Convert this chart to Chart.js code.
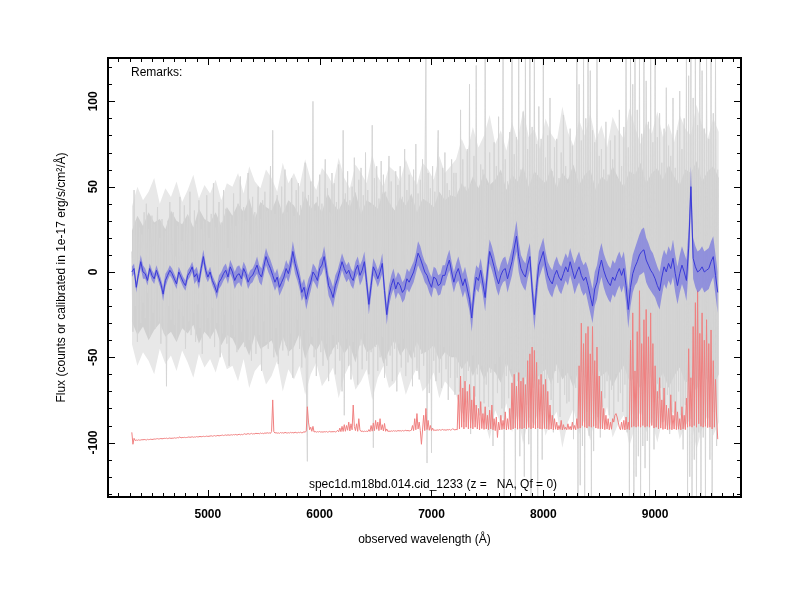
<!DOCTYPE html>
<html>
<head>
<meta charset="utf-8">
<script src="https://cdn.jsdelivr.net/npm/chart.js@4.4.1/dist/chart.umd.min.js"></script>
<style>
  html, body { margin: 0; padding: 0; background: #fff; }
  #wrap { width: 800px; height: 600px; }
</style>
</head>
<body>
<div id="wrap"><canvas id="spec" width="800" height="600"></canvas></div>
<script>
// wavelength grids (Angstrom), linear dispersion
const fineStart = 4320, fineStep = 10;     // raw spectrum and sky
const bandStart = 4320, bandStep = 50;     // density of the raw spectrum
const smoothStart = 4320, smoothStep = 20; // smoothed spectrum

// raw flux (grey), one row per 100 A
const greyFlux = [
  12, -35, 48, -20, 30, -41, 8, 26, -30, 22,
  -18, 35, -27, 40, -12, 25, -38, 15, 33, -24,
  28, -33, 10, 38, -29, 20, -42, 31, -15, -36,
  24, -67, 30, -20, 41, -28, 16, 35, -31, 9,
  -40, 27, -22, 44, -34, 18, -26, 39, -45, 21,
  33, -29, 47, -37, 12, -24, 36, -41, 28, -19,
  42, -33, 25, -48, 30, 16, -35, 45, -27, 20,
  -39, 34, -21, 52, -44, 26, -30, 19, 41, -50,
  29, -36, 48, -25, 37, -42, 14, -55, 33, 23,
  -31, 46, -38, 27, -47, 40, -22, 56, -35, 18,
  38, -44, 30, -28, 58, -40, 22, -52, 44, -26,
  35, -48, 26, 50, -37, 31, -58, 42, -29, 47,
  -41, 36, -45, 28, 62, -39, 83, -50, 34, -33,
  45, -54, 38, -30, 50, -46, 27, 60, -43, 35,
  -49, 41, -36, 55, -62, 33, -40, 48, -28, 52,
  -45, 39, -56, 47, -34, 64, -58, -111, 45, -42,
  53, -38, 100, -50, 36, -61, 44, -33, 57, -47,
  40, -55, 31, 66, -42, 49, -64, 35, -48, 58,
  -37, 52, -60, 41, -45, 63, -52, 38, -70, 83,
  -84, 46, -39, 59, -55, 42, -63, 50, -41, 67,
  -48, 37, -66, 54, -43, 61, -57, 45, -36, 70,
  -52, 48, -60, 39, -47, 86, -103, 55, -44, 62,
  -58, 43, -50, 65, -38, 57, -62, 47, -55, 40,
  68, -49, 53, -64, 36, -45, 59, -70, 51, -42,
  62, -56, 44, -39, 72, -61, 48, -53, 57, -46,
  41, -67, 60, -50, 75, -58, 46, -63, 54, -48,
  66, -55, 43, 125, -112, 58, -71, 49, -106, 62,
  -52, 47, -64, 56, 83, -59, 45, -68, 61, -44,
  70, -57, 52, -75, 48, -62, 66, -49, 58, -72,
  58, -62, 47, -70, 95, -55, 66, -88, 50, -64,
  72, -58, 110, -95, 52, -49, 68, -73, 121, -60,
  49, -84, 63, -55, 60, -77, 125, -66, 51, -79,
  70, -59, 48, -102, 76, -54, 62, -71, 91, -50,
  57, -80, 125, -132, 66, -61, 53, -74, 82, -57,
  125, -86, 69, -132, 79, -64, 125, -108, 60, -75,
  94, -120, 125, -78, 72, -101, 125, -132, 85, -68,
  125, -92, 75, -132, 97, -66, 78, -110, 125, -81,
  67, -88, 80, -62, 102, -75, 59, -94, 73, -58,
  78, -65, 55, -85, 70, -57, 92, -72, 62, -77,
  52, -76, 84, -61, 74, -98, 58, -68, 125, -132,
  110, -125, 77, -102, 125, -132, 90, -82, 125, -96,
  118, -132, 83, -105, 76, -90, 125, -85, 68, -97,
  72, -79, 60, -74, 88, -64, 57, -84, 77, -69,
  66, -87, 80, -60, 55, -76, 95, -71, 62, -82,
  85, -66, 125, -94, 73, -132, 125, -83, 110, -132,
  125, -120, 95, -108, 125, -132, 81, -102, 125, -115,
  112, -99, 88, -132, 125, -86, 76, -104, 125, -91,
  79, -74, 93, -68, 64, -88, 84, -78, 108, -72,
  74, -95, 68, -82, 102, -76, 61, -90, 83, -70,
  106, -84, 72, -104, 90, -78, 125, -132, 115, -120,
  125, -132, 102, -110, 125, -132, 86, -94, 125, -132,
  118, -97, 84, -132, 125, -90, 78, -110, 125, -132,
  93, -82, 125, -102, 60
];

// spread of the raw flux on the 50 A grid: dense core and lighter outer zone
const greyCoreHi = [
  24, 33, 27, 35, 29, 31, 25, 36, 30, 28, 34, 26, 37, 31, 29, 35, 27, 38,
  33, 40, 35, 43, 31, 41, 38, 36, 44, 34, 42, 39, 33, 45, 37, 41, 35, 46, 40, 36,
  43, 38, 47, 34, 42, 40, 37, 48, 41, 36, 44, 39, 46, 35, 43, 41, 38, 47, 42, 45,
  44, 52, 47, 56, 49, 58, 51, 54, 60, 48, 57, 53, 62, 50, 59, 55, 52, 61, 49, 58,
  54, 63, 51, 57, 60, 48, 56, 53, 62, 55, 50, 59, 57, 64, 52, 58, 61, 54, 63, 56,
  51, 60, 58, 65, 53, 59, 62, 55
];
const greyCoreLo = [
  -29, -37, -32, -40, -34, -30, -38, -35, -41, -33, -36, -31, -42, -35, -39, -33, -43, -37,
  -39, -46, -41, -49, -37, -45, -43, -40, -50, -38, -47, -44, -36, -51, -42, -46, -40, -52, -45, -41,
  -48, -43, -53, -39, -47, -45, -42, -54, -46, -40, -49, -44, -51, -41, -48, -46, -43, -52, -47, -50,
  -50, -57, -52, -61, -54, -63, -56, -59, -65, -53, -62, -58, -67, -55, -64, -60, -57, -66, -54, -63,
  -59, -68, -56, -62, -65, -53, -61, -58, -67, -60, -55, -64, -62, -69, -57, -63, -66, -59, -68, -61,
  -56, -65, -63, -70, -58, -64, -67, -60
];
const greyOuterHi = [
  38, 50, 42, 47, 55, 40, 49, 44, 53, 41, 48, 57, 43, 51, 46, 54, 42, 52,
  50, 58, 46, 62, 53, 49, 60, 55, 47, 64, 52, 58, 50, 66, 54, 48, 61, 57, 51, 67,
  55, 49, 63, 58, 52, 69, 56, 50, 62, 59, 53, 66, 57, 51, 64, 60, 54, 68, 58, 62,
  66, 78, 70, 85, 73, 80, 92, 75, 83, 71, 88, 77, 95, 79, 84, 72, 90, 81, 76, 97,
  82, 74, 89, 80, 93, 77, 86, 73, 91, 83, 78, 96, 85, 75, 88, 81, 94, 79, 87, 76,
  92, 84, 80, 98, 86, 78, 90, 82
];
const greyOuterLo = [
  -42, -55, -47, -52, -60, -45, -54, -49, -58, -46, -53, -62, -48, -56, -51, -59, -47, -57,
  -55, -64, -51, -68, -58, -54, -66, -61, -52, -70, -57, -63, -55, -72, -60, -53, -67, -62, -56, -74,
  -61, -54, -69, -64, -57, -75, -62, -55, -68, -65, -58, -72, -63, -56, -70, -66, -59, -74, -64, -68,
  -72, -84, -76, -91, -79, -86, -98, -81, -89, -77, -94, -83, -101, -85, -90, -78, -96, -87, -82, -103,
  -88, -80, -95, -86, -99, -83, -92, -79, -97, -89, -84, -102, -91, -81, -94, -87, -100, -85, -93, -82,
  -98, -90, -86, -104, -92, -84, -96, -88
];

// sky spectrum (red, offset), same grid as the raw flux
const skyFlux = [
  -94, -101, -97.5, -98.8, -98.5, -98.7, -98.4, -98.6, -98.5, -98.3,
  -98.4, -98.2, -98.3, -98.5, -98.1, -98.3, -98.2, -98, -98.2, -98.1,
  -97.9, -98, -97.8, -97.7, -97.9, -97.8, -97.6, -97.8, -97.7, -97.5,
  -97.6, -97.4, -97.7, -97.5, -97.3, -97.6, -97.4, -97.5, -97.2, -97.4,
  -97.3, -97.1, -97.2, -96.6, -97.3, -97, -97.1, -96.9, -97.1, -97,
  -96.9, -96.7, -96.9, -96.8, -96.6, -96.9, -96.7, -96.8, -96.5, -96.7,
  -96.6, -96.4, -96.6, -96.5, -96.3, -96.5, -96.4, -96.2, -96.4, -96.3,
  -96.2, -96, -96.3, -96.1, -95.9, -96.2, -96, -95.8, -96.1, -95.9,
  -95.8, -95.6, -95.9, -95.7, -95.5, -95.8, -95.4, -95.7, -95.6, -95.4,
  -95.6, -95.3, -95.5, -95.2, -95.6, -95.4, -95.1, -95.5, -95.2, -95.4,
  -95.1, -94.8, -95.2, -95, -94.7, -95.1, -94.9, -94.6, -95, -94.8,
  -94.9, -94.5, -94.8, -94.6, -94.9, -94.4, -94.7, -94.5, -94.8, -94.3,
  -94.6, -94.2, -94.5, -94.3, -94.6, -93.5, -75, -93.6, -94.4, -94.2,
  -94.5, -94.3, -94.6, -94.1, -94.4, -94.2, -94.5, -94, -94.3, -94.4,
  -94.2, -94.4, -94, -94.3, -94.1, -94.4, -93.9, -94.2, -94.3, -94,
  -94.2, -93.9, -94.3, -94.1, -93.6, -94, -93.2, -79, -88, -92.5,
  -91, -93.4, -90.5, -93.8, -93.5, -93.9, -93.6, -93.8, -93.5, -93.9,
  -93.7, -93.9, -93.6, -93.8, -93.5, -93.9, -93.7, -93.4, -93.8, -93.6,
  -93.7, -93.5, -93.8, -93.6, -92.8, -93.7, -91.5, -93.6, -90.5, -93.5,
  -89.5, -93.4, -90, -92.8, -88, -93.2, -89, -92.5, -78, -90.5,
  -93, -89, -93.4, -86, -92.6, -93.5, -93.2, -93.6, -93.3, -93.5,
  -93.3, -93.6, -92.4, -93.5, -90, -93.3, -88.5, -93, -87, -92.2,
  -88, -93, -86, -92.5, -89.5, -93.2, -88.8, -93.4, -92, -93.5,
  -93.2, -93.5, -93.1, -93.4, -93, -93.3, -93.1, -93.4, -92.9, -93.2,
  -93, -93.3, -92.9, -93.2, -93, -92.8, -93.1, -92.9, -93.2, -93,
  -92.8, -90, -93, -86, -92.5, -83, -92, -88, -93, -101,
  -92.6, -84, -93, -80, -92.4, -87, -92.8, -90, -93, -91.5,
  -93, -92.6, -92.9, -92.5, -92.8, -92.4, -92.7, -92.6, -92.3, -92.7,
  -92.5, -92.8, -92.4, -92.6, -92.3, -92.7, -92.5, -91.8, -92.4, -92.6,
  -92.3, -92.5, -72, -92, -61, -91, -68, -92, -64, -91,
  -70, -92, -66, -91.5, -75, -92, -67, -91, -78, -92,
  -80, -92.5, -76, -91.8, -83, -92.3, -79, -92, -84, -92.4,
  -81, -92, -78, -92.5, -86, -93, -85, -97, -88, -92.6,
  -84, -92.4, -87, -92.1, -82, -92.6, -86, -92.2, -80, -92.5,
  -65, -92, -60, -91.5, -67, -92.2, -59, -91.8, -64, -92,
  -62, -91.5, -66, -92, -52, -91.2, -48, -92, -44, -91.5,
  -46, -92, -53, -91.5, -63, -92, -60, -92.2, -66, -91.8,
  -63, -92, -70, -92.4, -78, -92.1, -84, -92.5, -86, -92.2,
  -88, -92.6, -90, -92.3, -87, -92.6, -89.5, -92.2, -91, -92.5,
  -89, -92.3, -90.5, -92.6, -88, -92.2, -90, -92.5, -86, -91.8,
  -55, -91.5, -30, -90, -42, -91, -36, -91.5, -32, -90.5,
  -48, -91, -32, -90.5, -52, -91.5, -44, -91.8, -61, -92,
  -70, -92, -80, -92.4, -84, -92.1, -86, -92.5, -88, -92.2,
  -86, -88, -84, -83, -85, -88, -91, -92.5, -88, -92.3,
  -87, -92.6, -85, -92.2, -88, -92.5, -40, -91, -24, -90.5,
  -58, -91, -35, -90.5, -11, -91, -42, -90, -28, -91,
  -22, -90.5, -38, -91, -24, -90, -42, -91.5, -55, -91,
  -70, -92, -62, -91.5, -75, -92.3, -68, -92, -78, -92.4,
  -80, -92.2, -72, -92.5, -84, -92.1, -76, -92.4, -82, -92.2,
  -86, -92.5, -79, -92, -84, -92.4, -74, -91, -45, -90.5,
  -62, -91, -32, -90, -18, -91, -11, -89, -36, -90.5,
  -24, -91, -40, -90.5, -28, -91.2, -42, -91, -34, -92,
  -52, -91, -63, -85, -98
];

// smoothed flux (blue) and its error, one row per 200 A
const blueFlux = [
  0, 2, -9, -1, 6, 0, -1, -5, 2, -2,
  -4, 1, -3, -7, -13, -5, -2, 1, -1, -4,
  -7, 0, -3, -6, -8, -2, 0, 3, -3, -1,
  -6, 2, 9, 1, -3, 0, -5, -8, -12, -6,
  -4, -1, 1, -3, 3, 0, -5, -2, -1, -4,
  2, -1, -6, -3, -2, 1, 4, -1, -3, 3,
  9, 5, 2, -2, -6, -3, -9, -6, -3, 2,
  -1, 4, 12, 5, 0, -5, -12, -9, -16, -10,
  -6, 0, -2, -5, 2, 4, 9, 1, -8, -11,
  -15, -8, -4, 1, 6, 2, -1, 1, -3, -5,
  1, 4, -2, 1, 6, -6, -19, -8, 3, 0,
  -4, 0, 5, -11, -25, -14, -8, -4, -10, -6,
  -8, -12, -10, -4, -6, -3, 0, 5, 11, 8,
  4, 0, -2, -6, -9, -3, -4, -8, -7, -2,
  -2, 3, 7, 0, -6, -1, 2, -3, -8, -4,
  -10, -16, -27, -12, -3, -5, 1, -7, -15, 0,
  12, 8, 3, -3, -7, -2, 1, 2, -4, 1,
  6, 14, 21, 9, 2, -1, -3, 4, 9, -10,
  -25, -9, 4, 8, 12, 4, -2, -5, -7, -2,
  1, -3, -5, -1, 3, 0, 6, 1, -4, 0,
  3, -2, -5, -3, -8, -14, -20, -10, -6, 2,
  7, 1, -3, -6, -8, -3, -5, -1, 2, -2,
  2, -8, -22, -9, -1, 3, 6, 10, 12, 13,
  7, 4, 1, -1, -4, -8, -11, -3, 3, 0,
  5, 2, 8, -1, -8, -1, 4, 0, -5, 14,
  50, 8, 3, 0, 1, 3, 0, 1, 2, 6,
  9, -2, -12
];
const blueErr = [
  3, 3, 3, 3, 4, 4, 3, 3, 3, 3,
  3, 3, 3, 3, 4, 4, 3, 3, 3, 3,
  3, 3, 3, 3, 3, 3, 3, 3, 4, 4,
  4, 4, 4, 4, 3, 3, 3, 3, 4, 4,
  4, 4, 4, 4, 4, 4, 5, 5, 5, 5,
  4, 4, 4, 4, 4, 4, 5, 5, 5, 5,
  5, 5, 5, 5, 5, 5, 5, 5, 5, 5,
  5, 5, 6, 6, 5, 5, 5, 5, 6, 6,
  5, 5, 5, 5, 5, 5, 6, 6, 6, 6,
  6, 6, 5, 5, 5, 5, 5, 5, 5, 5,
  5, 5, 6, 6, 6, 6, 6, 6, 5, 5,
  5, 5, 6, 6, 6, 6, 6, 6, 6, 6,
  6, 6, 6, 6, 6, 6, 6, 6, 7, 7,
  6, 6, 6, 6, 6, 6, 6, 6, 6, 6,
  6, 6, 6, 6, 6, 6, 7, 7, 7, 7,
  7, 7, 8, 8, 7, 7, 7, 7, 8, 8,
  7, 7, 7, 7, 7, 7, 7, 7, 8, 8,
  8, 8, 9, 9, 8, 8, 8, 8, 8, 8,
  9, 9, 8, 8, 8, 8, 8, 8, 8, 8,
  8, 8, 8, 8, 8, 8, 8, 8, 9, 9,
  9, 9, 9, 9, 10, 10, 10, 10, 10, 10,
  10, 10, 10, 10, 10, 10, 10, 10, 10, 10,
  10, 10, 11, 11, 11, 11, 12, 12, 13, 13,
  13, 13, 12, 12, 11, 11, 11, 11, 10, 10,
  10, 10, 11, 11, 11, 11, 11, 11, 12, 12,
  12, 12, 12, 12, 12, 12, 12, 12, 12, 12,
  12, 12, 12
];

const xTicks = [5000, 6000, 7000, 8000, 9000];
const yTicks = [-100, -50, 0, 50, 100];
const xRange = [4107, 9768];
const yRange = [-131.9, 125.4];
const xTitle = 'observed wavelength (Å)';
const yTitle = 'Flux (counts or calibrated in 1e-17 erg/s/cm²/Å)';
const remarks = 'Remarks:';
const specTitle = 'spec1d.m18bd.014.cid_1233 (z =   NA, Qf = 0)';

const toXY = (arr, start, step) => arr.map((v, i) => ({ x: start + i * step, y: v }));

const font = '"Liberation Sans", Arial, sans-serif';

// frame, inward ticks and all the text
const frame = {
  id: 'frame',
  afterDraw(chart) {
    const { ctx, chartArea: a, scales: { x, y } } = chart;
    ctx.save();
    ctx.strokeStyle = '#000';
    ctx.lineWidth = 2;
    ctx.strokeRect(a.left, a.top, a.right - a.left, a.bottom - a.top);

    ctx.lineWidth = 1;
    ctx.beginPath();
    for (let w = 4200; w <= 9700; w += 100) {
      const px = Math.round(x.getPixelForValue(w)) + 0.5;
      const len = xTicks.includes(w) ? 7 : 4;
      ctx.moveTo(px, a.bottom); ctx.lineTo(px, a.bottom - len);
      ctx.moveTo(px, a.top); ctx.lineTo(px, a.top + len);
    }
    for (let v = -130; v <= 120; v += 10) {
      const py = Math.round(y.getPixelForValue(v)) + 0.5;
      const len = yTicks.includes(v) ? 7 : 4;
      ctx.moveTo(a.left, py); ctx.lineTo(a.left + len, py);
      ctx.moveTo(a.right, py); ctx.lineTo(a.right - len, py);
    }
    ctx.stroke();

    ctx.fillStyle = '#000';
    ctx.textAlign = 'center';
    ctx.textBaseline = 'middle';
    ctx.font = 'bold 12px ' + font;
    xTicks.forEach(w => ctx.fillText(String(w), x.getPixelForValue(w), 515));
    yTicks.forEach(v => {
      ctx.save();
      ctx.translate(94, y.getPixelForValue(v));
      ctx.rotate(-Math.PI / 2);
      ctx.fillText(String(v), 0, 0);
      ctx.restore();
    });

    ctx.font = '12px ' + font;
    ctx.fillText(xTitle, (a.left + a.right) / 2, 540);
    ctx.save();
    ctx.translate(62, (a.top + a.bottom) / 2);
    ctx.rotate(-Math.PI / 2);
    ctx.fillText(yTitle, 0, 0);
    ctx.restore();

    ctx.fillText(specTitle, 433, 485);
    ctx.textAlign = 'left';
    ctx.fillText(remarks, 131, 73);
    ctx.restore();
  }
};

const blueHi = blueFlux.map((v, i) => v + blueErr[i]);
const blueLo = blueFlux.map((v, i) => v - blueErr[i]);
const none = 'rgba(0,0,0,0)';

new Chart(document.getElementById('spec'), {
  type: 'line',
  data: {
    datasets: [
      { label: 'smoothed', data: toXY(blueFlux, smoothStart, smoothStep),
        borderColor: '#3a3ad8', borderWidth: 1, fill: false, order: 0 },
      { label: 'err hi', data: toXY(blueHi, smoothStart, smoothStep),
        borderWidth: 0, borderColor: none, backgroundColor: 'rgba(90,90,225,0.55)',
        fill: '+1', order: 1 },
      { label: 'err lo', data: toXY(blueLo, smoothStart, smoothStep),
        borderWidth: 0, borderColor: none, fill: false, order: 1 },
      { label: 'sky', data: toXY(skyFlux, fineStart, fineStep),
        borderColor: '#f08080', borderWidth: 1, fill: false, order: 2 },
      { label: 'raw', data: toXY(greyFlux, fineStart, fineStep),
        borderColor: '#d5d5d5', borderWidth: 1, fill: false, order: 5 },
      { label: 'core hi', data: toXY(greyCoreHi, bandStart, bandStep),
        borderWidth: 0, borderColor: none, backgroundColor: '#d0d0d0', fill: '+1', order: 6 },
      { label: 'core lo', data: toXY(greyCoreLo, bandStart, bandStep),
        borderWidth: 0, borderColor: none, fill: false, order: 6 },
      { label: 'outer hi', data: toXY(greyOuterHi, bandStart, bandStep),
        borderWidth: 0, borderColor: none, backgroundColor: '#e8e8e8', fill: '+1', order: 7 },
      { label: 'outer lo', data: toXY(greyOuterLo, bandStart, bandStep),
        borderWidth: 0, borderColor: none, fill: false, order: 7 }
    ]
  },
  options: {
    responsive: false,
    animation: false,
    devicePixelRatio: 1,
    layout: { padding: { left: 108, top: 58, right: 59, bottom: 103 } },
    elements: {
      point: { radius: 0, hoverRadius: 0 },
      line: { tension: 0, borderJoinStyle: 'bevel' }
    },
    plugins: { legend: { display: false }, tooltip: { enabled: false } },
    scales: {
      x: { type: 'linear', min: xRange[0], max: xRange[1], display: false },
      y: { type: 'linear', min: yRange[0], max: yRange[1], display: false }
    }
  },
  plugins: [frame]
});
</script>
</body>
</html>
